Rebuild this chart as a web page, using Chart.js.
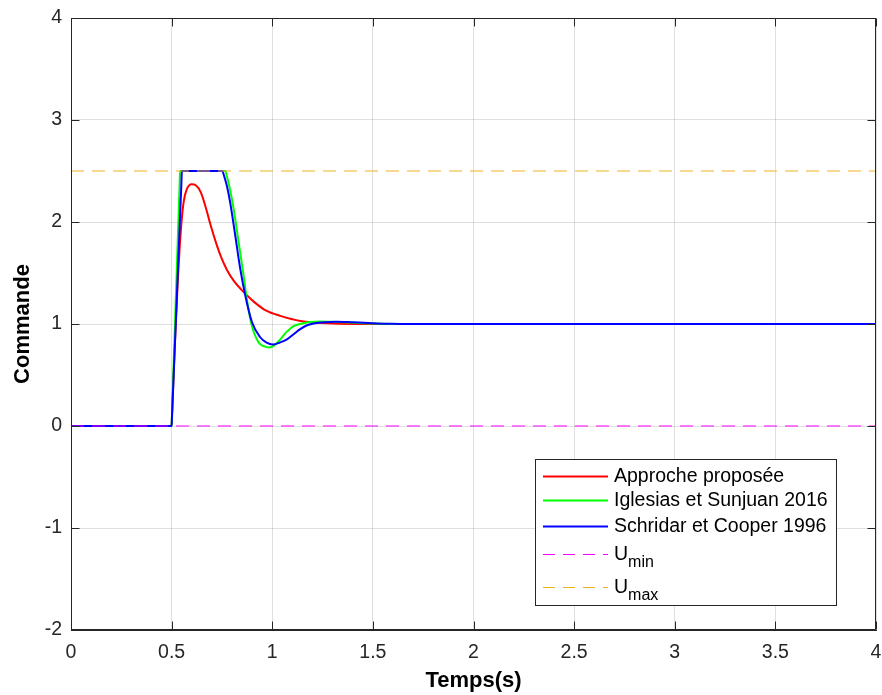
<!DOCTYPE html>
<html lang="fr">
<head>
    <meta charset="UTF-8">
    <script src="https://cdn.jsdelivr.net/npm/chart.js"></script>
    <title>Commande</title>
    <style>
        body {
            margin: 0;
            background-color: #ffffff;
        }

        .chart-box {
            width: 882px;
            height: 695px;
        }
    </style>
</head>
<body>
    <div class="chart-box">
        <canvas id="cmdChart"></canvas>
    </div>

    <script>
        // Values
        const tRed = [0, 0.5, 0.502, 0.515, 0.53, 0.54, 0.55, 0.56, 0.575, 0.6, 0.62, 0.645, 0.67, 0.695, 0.72, 0.745, 0.775, 0.81, 0.845, 0.875, 0.92, 0.97, 1.04, 1.14, 1.25, 1.4, 1.6, 4];
        const yRed = [0, 0, 0.1, 0.75, 1.4, 1.75, 2.02, 2.2, 2.32, 2.37, 2.36, 2.29, 2.14, 1.96, 1.8, 1.66, 1.53, 1.42, 1.34, 1.28, 1.2, 1.13, 1.08, 1.03, 1.01, 1.0, 1.0, 1.0];

        const tGreen = [0, 0.5, 0.502, 0.54, 0.542, 0.768, 0.772, 0.79, 0.808, 0.833, 0.858, 0.874, 0.899, 0.932, 0.96, 0.985, 1.01, 1.04, 1.07, 1.106, 1.15, 1.19, 1.24, 1.29, 1.39, 1.49, 1.6, 4];
        const yGreen = [0, 0, 0.12, 2.38, 2.5, 2.5, 2.47, 2.32, 2.13, 1.8, 1.47, 1.24, 0.98, 0.82, 0.78, 0.77, 0.79, 0.85, 0.92, 0.98, 1.005, 1.02, 1.025, 1.022, 1.015, 1.006, 1.0, 1.0];

        const tBlue = [0, 0.5, 0.502, 0.549, 0.551, 0.753, 0.758, 0.775, 0.791, 0.816, 0.841, 0.866, 0.899, 0.94, 0.97, 1.003, 1.04, 1.073, 1.106, 1.139, 1.17, 1.206, 1.26, 1.32, 1.39, 1.455, 1.52, 1.587, 1.7, 4];
        const yBlue = [0, 0, 0.1, 2.4, 2.5, 2.5, 2.47, 2.35, 2.19, 1.87, 1.54, 1.28, 1.02, 0.87, 0.82, 0.8, 0.82, 0.85, 0.9, 0.95, 0.985, 1.005, 1.018, 1.022, 1.018, 1.012, 1.006, 1.002, 1.0, 1.0];

        const tLimits = [0, 4];
        const uMin = [0, 0];
        const uMax = [2.5, 2.5];

        const xTicks = [0, 0.5, 1, 1.5, 2, 2.5, 3, 3.5, 4];
        const yTicks = [-2, -1, 0, 1, 2, 3, 4];

        const legendLabels = ['Approche proposée', 'Iglesias et Sunjuan 2016', 'Schridar et Cooper 1996', 'U', 'U'];
        const legendSubs = ['', '', '', 'min', 'max'];

        const axisColor = '#262626';
        const fontFamily = '"Liberation Sans", Arial, Helvetica, sans-serif';

        function toPoints(xs, ys) {
            return xs.map((x, i) => ({ x: x, y: ys[i] }));
        }

        function makeSet(label, xs, ys, color, dash, width, order) {
            return {
                label: label,
                data: toPoints(xs, ys),
                borderColor: color,
                backgroundColor: color,
                borderWidth: width,
                borderDash: dash,
                pointRadius: 0,
                fill: false,
                cubicInterpolationMode: 'monotone',
                order: order
            };
        }

        const datasets = [
            makeSet(legendLabels[0], tRed, yRed, '#ff0000', [], 2, 5),
            makeSet(legendLabels[1], tGreen, yGreen, '#00ff00', [], 2, 4),
            makeSet(legendLabels[2], tBlue, yBlue, '#0000ff', [], 2, 3),
            makeSet('Umin', tLimits, uMin, '#ff00ff', [13, 8], 1, 2),
            makeSet('Umax', tLimits, uMax, '#edb120', [13, 8], 1.2, 1)
        ];

        // Box, inside ticks and legend drawn on top like the MATLAB figure
        const boxPlugin = {
            id: 'boxPlugin',
            afterDraw(chart) {
                const ctx = chart.ctx;
                const area = chart.chartArea;
                const xs = chart.scales.x;
                const ys = chart.scales.y;
                const l = Math.round(area.left) + 0.5;
                const r = Math.round(area.right) - 0.5;
                const t = Math.round(area.top) + 0.5;
                const b = Math.round(area.bottom) - 0.5;
                const tick = 8;

                ctx.save();
                ctx.strokeStyle = axisColor;
                ctx.lineWidth = 1;
                ctx.setLineDash([]);
                ctx.strokeRect(l, t, r - l, b - t);

                ctx.beginPath();
                xTicks.forEach(v => {
                    const px = Math.round(xs.getPixelForValue(v)) + 0.5;
                    ctx.moveTo(px, b); ctx.lineTo(px, b - tick);
                    ctx.moveTo(px, t); ctx.lineTo(px, t + tick);
                });
                yTicks.forEach(v => {
                    const py = Math.round(ys.getPixelForValue(v)) + 0.5;
                    ctx.moveTo(l, py); ctx.lineTo(l + tick, py);
                    ctx.moveTo(r, py); ctx.lineTo(r - tick, py);
                });
                ctx.stroke();

                // legend
                const lx = 535.5, ly = 459.5, lw = 301, lh = 146;
                ctx.fillStyle = '#ffffff';
                ctx.fillRect(lx, ly, lw, lh);
                ctx.strokeStyle = axisColor;
                ctx.strokeRect(lx, ly, lw, lh);

                const rows = [477, 501, 527, 555, 588];
                ctx.textBaseline = 'middle';
                ctx.textAlign = 'left';
                chart.data.datasets.forEach((ds, i) => {
                    const y = rows[i] - 0.5;
                    ctx.beginPath();
                    ctx.strokeStyle = ds.borderColor;
                    ctx.lineWidth = ds.borderWidth;
                    ctx.setLineDash(ds.borderDash.length ? [12, 8] : []);
                    ctx.moveTo(543, y);
                    ctx.lineTo(608, y);
                    ctx.stroke();
                    ctx.setLineDash([]);

                    ctx.fillStyle = '#000000';
                    ctx.font = '19.5px ' + fontFamily;
                    ctx.fillText(legendLabels[i], 614, rows[i]);
                    if (legendSubs[i]) {
                        const w = ctx.measureText(legendLabels[i]).width;
                        ctx.font = '16px ' + fontFamily;
                        ctx.fillText(legendSubs[i], 614 + w, rows[i] + 8);
                    }
                });
                ctx.restore();
            }
        };

        new Chart(document.getElementById('cmdChart'), {
            type: 'line',
            data: { datasets: datasets },
            options: {
                responsive: true,
                maintainAspectRatio: false,
                animation: false,
                layout: { padding: { top: 18, right: 6, left: 0, bottom: 0 } },
                plugins: {
                    legend: { display: false },
                    tooltip: { enabled: false }
                },
                scales: {
                    x: {
                        type: 'linear',
                        min: 0,
                        max: 4,
                        afterFit: scale => {
                            scale.height = 65;
                            scale.paddingLeft = 0;
                            scale.paddingRight = 0;
                        },
                        afterBuildTicks: scale => { scale.ticks = xTicks.map(v => ({ value: v })); },
                        ticks: {
                            color: axisColor,
                            padding: 11,
                            maxRotation: 0,
                            callback: value => String(value),
                            font: { family: fontFamily, size: 19.5 }
                        },
                        grid: { color: 'rgba(38,38,38,0.15)', drawTicks: false },
                        border: { color: axisColor, width: 1 },
                        title: {
                            display: true,
                            text: 'Temps(s)',
                            color: '#000000',
                            padding: { top: 0, bottom: 1 },
                            font: { family: fontFamily, size: 22, weight: 'bold' }
                        }
                    },
                    y: {
                        type: 'linear',
                        min: -2,
                        max: 4,
                        afterFit: scale => {
                            scale.width = 71;
                            scale.paddingTop = 0;
                            scale.paddingBottom = 0;
                        },
                        afterBuildTicks: scale => { scale.ticks = yTicks.map(v => ({ value: v })); },
                        ticks: {
                            color: axisColor,
                            padding: 9,
                            callback: value => String(value),
                            font: { family: fontFamily, size: 19.5 }
                        },
                        grid: { color: 'rgba(38,38,38,0.15)', drawTicks: false },
                        border: { color: axisColor, width: 1 },
                        title: {
                            display: true,
                            text: 'Commande',
                            color: '#000000',
                            padding: { top: 10, bottom: 0 },
                            font: { family: fontFamily, size: 22, weight: 'bold' }
                        }
                    }
                }
            },
            plugins: [boxPlugin]
        });
    </script>
</body>
</html>
